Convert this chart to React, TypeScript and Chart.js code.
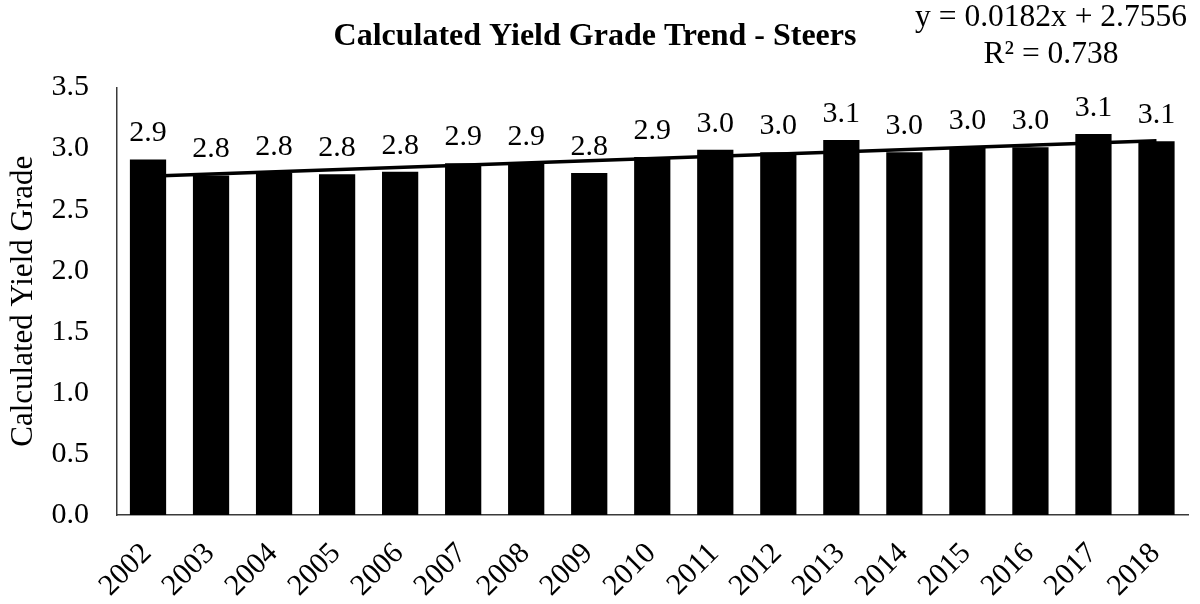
import React, { useEffect, useRef } from "react";
import { Chart, registerables } from "chart.js";

Chart.register(...registerables);

const YEARS = ["2002", "2003", "2004", "2005", "2006", "2007", "2008", "2009", "2010", "2011", "2012", "2013", "2014", "2015", "2016", "2017", "2018"];
const YIELD_GRADE = [2.91, 2.78, 2.80, 2.79, 2.81, 2.88, 2.88, 2.80, 2.93, 2.99, 2.97, 3.07, 2.97, 3.01, 3.01, 3.12, 3.06];
// Linear trendline endpoints (first and last category), y = 0.0182x + 2.7556
const TREND_START = 2.774;
const TREND_END = 3.065;
const TREND = YEARS.map((_, i) => (i === 0 ? TREND_START : i === YEARS.length - 1 ? TREND_END : null));
const Y_TICKS = [0, 0.5, 1.0, 1.5, 2.0, 2.5, 3.0, 3.5];

const TITLE = "Calculated Yield Grade Trend - Steers";
const Y_TITLE = "Calculated Yield Grade";
const EQUATION = "y = 0.0182x + 2.7556";
const R_SQUARED = "R² = 0.738";

const FONT = "'Liberation Serif', 'Times New Roman', serif";

const textPlugin = {
  id: "textPlugin",
  afterDatasetsDraw(chart: any) {
    const ctx = chart.ctx;
    ctx.save();
    // data labels
    const meta = chart.getDatasetMeta(0);
    ctx.fillStyle = "#000";
    ctx.font = `30px ${FONT}`;
    ctx.textAlign = "center";
    ctx.textBaseline = "middle";
    meta.data.forEach((el: any, i: number) => {
      ctx.fillText(YIELD_GRADE[i].toFixed(1), el.x, el.y - 26);
    });
    // title
    ctx.font = `bold 32px ${FONT}`;
    ctx.textBaseline = "alphabetic";
    ctx.fillText(TITLE, 595, 45);
    // equation
    ctx.font = `31.5px ${FONT}`;
    ctx.fillText(EQUATION, 1051, 26);
    ctx.fillText(R_SQUARED, 1051, 63);
    ctx.restore();
  },
};

export default function App() {
  const ref = useRef<HTMLCanvasElement | null>(null);
  useEffect(() => {
    if (!ref.current) return;
    const chart = new Chart(ref.current, {
      type: "bar",
      data: {
        labels: YEARS,
        datasets: [
          {
            type: "bar",
            data: YIELD_GRADE,
            backgroundColor: "#000",
            borderWidth: 0,
            categoryPercentage: 1,
            barPercentage: 0.575,
            order: 1,
          },
          {
            type: "line",
            data: TREND as any,
            borderColor: "#000",
            borderWidth: 3.5,
            pointRadius: 0,
            spanGaps: true,
            fill: false,
            order: 0,
          } as any,
        ],
      },
      options: {
        responsive: false,
        animation: false,
        layout: { padding: { top: 87.5, right: 12, bottom: 0, left: 0 } },
        plugins: { legend: { display: false }, tooltip: { enabled: false }, title: { display: false } },
        scales: {
          x: {
            grid: { display: false, drawTicks: false },
            border: { display: true, color: "#3a3a3a", width: 1.5 },
            ticks: {
              autoSkip: false,
              maxRotation: 45,
              minRotation: 45,
              padding: 21,
              labelOffset: -1,
              color: "#000",
              font: { family: FONT, size: 30 },
            },
            afterFit: (axis: any) => {
              axis.height = 89;
              axis.paddingLeft = 0;
              axis.paddingRight = 0;
            },
          },
          y: {
            min: 0,
            max: 3.5,
            afterBuildTicks: (axis: any) => {
              axis.ticks = Y_TICKS.map((v) => ({ value: v }));
            },
            grid: { display: false, drawTicks: false },
            border: { display: true, color: "#3a3a3a", width: 1.5 },
            ticks: {
              padding: 27.5,
              color: "#000",
              font: { family: FONT, size: 30 },
              callback: (v: any) => Number(v).toFixed(1),
            },
            title: {
              display: true,
              text: Y_TITLE,
              color: "#000",
              font: { family: FONT, size: 31 },
              padding: { top: 5, bottom: 0 },
            },
            afterFit: (axis: any) => {
              axis.width = 116.5;
              axis.paddingTop = 0;
              axis.paddingBottom = 0;
            },
          },
        },
      },
      plugins: [textPlugin],
    });
    return () => chart.destroy();
  }, []);
  return (
    <div style={{ position: "absolute", left: 0, top: 0, width: 1200, height: 604, background: "#fff" }}>
      <canvas ref={ref} width={1200} height={604} style={{ display: "block" }} />
    </div>
  );
}
